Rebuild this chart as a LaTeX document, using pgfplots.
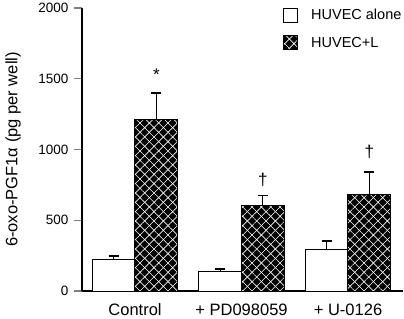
\documentclass[border=0pt]{standalone}
\usepackage{pgfplots}
\pgfplotsset{compat=1.18}
\usepackage{pgfplotstable}
\usetikzlibrary{patterns.meta}
\usepackage{fontspec}
\setmainfont{Liberation Sans}

\pgfplotstableread{
x y e
-0.2 220 28
0.8 135 20
1.8 295 58
}\alone
\pgfplotstableread{
x y e
0.2 1210 190
1.2 605 70
2.2 680 160
}\withL

\tikzset{hatchbar/.style={fill=black, draw=black,
  postaction={pattern={Lines[angle=45,distance=6.6bp,line width=0.6bp]}, pattern color=white},
  postaction={pattern={Lines[angle=-45,distance=6.6bp,line width=0.6bp]}, pattern color=white},
  postaction={draw=black, fill=none}}}

\begin{document}
\begin{tikzpicture}
\begin{axis}[name=ax,
  scale only axis, width=321bp, height=283bp,
  xmin=-0.498, xmax=2.516, ymin=0, ymax=2000,
  axis lines=left, axis line style={line width=1.3bp, -},
  ytick={0,500,1000,1500,2000},
  xtick={0,1,2}, xticklabels={Control,+ PD098059,+ U-0126},
  xtick style={draw=none},
  ytick style={line width=1.3bp},
  tick align=outside, major tick length=8bp,
  yticklabel style={font=\fontsize{13.5bp}{15bp}\selectfont, xshift=-2bp},
  xticklabel style={font=\fontsize{16.5bp}{19bp}\selectfont, yshift=-1.5bp},
  /pgf/number format/assume math mode=true,
  /pgf/number format/1000 sep={},
  scaled y ticks=false,
  ylabel={6-oxo-PGF1α (pg per well)},
  every axis y label/.style={at={(axis description cs:-0.215,0.5)}, rotate=90, anchor=center,
    font=\fontsize{16.5bp}{19bp}\selectfont},
  ybar, bar width=0.405, bar shift=0pt,
  error bars/y dir=plus, error bars/y explicit,
  error bars/error bar style={line width=1.3bp, black},
  error bars/error mark options={rotate=90, mark size=5bp, line width=1.3bp, black},
  legend style={draw=none, fill=none, at={(axis description cs:0.626,1.004)}, anchor=north west,
    font=\fontsize{14.5bp}{17bp}\selectfont, row sep=12bp, inner sep=0pt,
    nodes={inner sep=2bp}},
  legend cell align=left,
  legend image code/.code={\draw[#1] (0bp,-7bp) rectangle (14bp,7bp);},
  clip=false,
]
\addplot[fill=white, draw=black, line width=1bp] table[x=x, y=y, y error=e] {\alone};
\addplot[hatchbar, line width=1bp] table[x=x, y=y, y error=e] {\withL};
\legend{\hspace{11bp}HUVEC alone, \hspace{11bp}HUVEC+L}
\node[font=\fontsize{17bp}{19bp}\selectfont] at (axis cs:0.2,1530) {*};
\node[font=\fontsize{17bp}{19bp}\selectfont] at (axis cs:1.2,784) {†};
\node[font=\fontsize{17bp}{19bp}\selectfont] at (axis cs:2.2,985) {†};
\end{axis}
\pgfresetboundingbox
\path[use as bounding box] ([xshift=-82bp,yshift=-28bp]ax.south west) rectangle ([xshift=1bp,yshift=8bp]ax.north east);
\end{tikzpicture}
\end{document}
